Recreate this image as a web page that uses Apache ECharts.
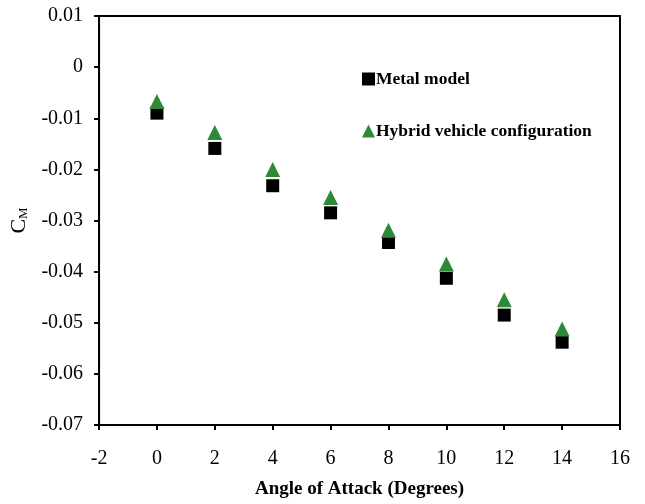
<!DOCTYPE html>
<html>
<head>
<meta charset="utf-8">
<script src="https://cdn.jsdelivr.net/npm/echarts@6/dist/echarts.min.js"></script>
<style>
  html, body { margin: 0; padding: 0; background: #fff; }
  #chart { width: 645px; height: 504px; }
</style>
</head>
<body>
<div id="chart"></div>
<script>
// Pitching moment coefficient versus angle of attack
const angles = [0, 2, 4, 6, 8, 10, 12, 14];
const metalModel = [-0.0090, -0.0159, -0.0232, -0.0285, -0.0343, -0.0413, -0.0485, -0.0538];
const hybridConfig = [-0.0067, -0.0128, -0.0200, -0.0255, -0.0319, -0.0385, -0.0455, -0.0512];
const seriesNames = ['Metal model', 'Hybrid vehicle configuration'];
const xTitle = 'Angle of Attack (Degrees)';

const serif = '"Liberation Serif", "DejaVu Serif", serif';
const green = '#2f8a38';

const chart = echarts.init(document.getElementById('chart'));
chart.setOption({
  animation: false,
  backgroundColor: '#fff',
  grid: {
    left: 98, top: 16, right: 25, bottom: 77,
    show: true, borderColor: '#000', borderWidth: 2, backgroundColor: 'transparent'
  },
  legend: {
    orient: 'vertical',
    left: 357, top: 65,
    itemGap: 34,
    itemWidth: 13, itemHeight: 13,
    textStyle: { fontFamily: serif, fontSize: 17.5, fontWeight: 'bold', color: '#000', padding: [0, 0, 0, -4] },
    data: [
      { name: seriesNames[0], icon: 'rect' },
      { name: seriesNames[1], icon: 'triangle' }
    ]
  },
  xAxis: {
    type: 'value', min: -2, max: 16, interval: 2,
    name: xTitle, nameLocation: 'middle', nameGap: 55,
    nameTextStyle: { fontFamily: serif, fontSize: 19, fontWeight: 'bold', color: '#000' },
    axisLine: { onZero: false, lineStyle: { color: '#000', width: 2 } },
    axisTick: { show: true, length: 5, lineStyle: { color: '#000', width: 2 } },
    axisLabel: { fontFamily: serif, fontSize: 20, color: '#000', margin: 24 },
    splitLine: { show: false }
  },
  yAxis: {
    type: 'value', min: -0.07, max: 0.01, interval: 0.01,
    name: '{c|C}{s|M}', nameLocation: 'middle', nameGap: 62, nameRotate: 90,
    nameTextStyle: {
      rich: {
        c: { fontFamily: serif, fontSize: 22, color: '#000' },
        s: { fontFamily: serif, fontSize: 13, color: '#000', verticalAlign: 'bottom', padding: [10, 0, 0, 0] }
      }
    },
    axisLine: { onZero: false, lineStyle: { color: '#000', width: 2 } },
    axisTick: { show: true, length: 5, lineStyle: { color: '#000', width: 2 } },
    axisLabel: {
      fontFamily: serif, fontSize: 20, color: '#000', margin: 16,
      formatter: v => String(parseFloat(v.toFixed(2)))
    },
    splitLine: { show: false }
  },
  series: [
    {
      name: seriesNames[0], type: 'scatter', symbol: 'rect', symbolSize: 13,
      itemStyle: { color: '#000', opacity: 1 },
      data: angles.map((a, i) => [a, metalModel[i]])
    },
    {
      name: seriesNames[1], type: 'scatter', symbol: 'triangle', symbolSize: [15, 15],
      itemStyle: { color: green, opacity: 1 },
      data: angles.map((a, i) => [a, hybridConfig[i]])
    }
  ]
});
</script>
</body>
</html>
